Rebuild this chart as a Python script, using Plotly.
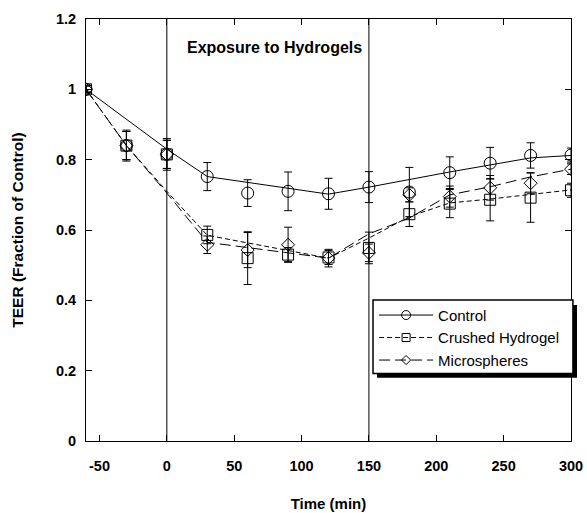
import plotly.graph_objects as go

time = [-60, -30, 0, 30, 60, 90, 120, 150, 180, 210, 240, 270, 300]

control = [1.0, 0.84, 0.815, 0.752, 0.705, 0.71, 0.703, 0.722, 0.708, 0.763, 0.79, 0.812, 0.813]
control_err = [0.01, 0.044, 0.045, 0.04, 0.038, 0.055, 0.044, 0.044, 0.07, 0.045, 0.045, 0.036, 0.02]

crushed = [1.0, 0.84, 0.815, 0.586, 0.52, 0.53, 0.522, 0.549, 0.645, 0.675, 0.686, 0.692, 0.713]
crushed_err = [0.01, 0.04, 0.04, 0.025, 0.075, 0.02, 0.02, 0.045, 0.035, 0.04, 0.06, 0.07, 0.02]

micro = [1.0, 0.84, 0.815, 0.558, 0.543, 0.558, 0.52, 0.535, 0.70, 0.695, 0.72, 0.733, 0.773]
micro_err = [0.01, 0.04, 0.04, 0.025, 0.05, 0.05, 0.025, 0.025, 0.02, 0.03, 0.035, 0.03, 0.015]

# smoothed trend curves drawn through the data
control_fit_x = [-60, 0, 30, 120, 150, 210, 270, 300]
control_fit_y = [1.0, 0.83, 0.752, 0.702, 0.722, 0.765, 0.805, 0.812]
crushed_fit_x = [-60, -30, 0, 30, 120, 150, 180, 210, 240, 300]
crushed_fit_y = [1.0, 0.84, 0.71, 0.585, 0.52, 0.577, 0.638, 0.677, 0.688, 0.714]
micro_fit_x = [-60, -30, 0, 30, 120, 150, 180, 210, 240, 270, 300]
micro_fit_y = [1.0, 0.84, 0.705, 0.565, 0.52, 0.589, 0.634, 0.70, 0.723, 0.751, 0.773]

x_ticks = [-50, 0, 50, 100, 150, 200, 250, 300]
y_ticks = [0, 0.2, 0.4, 0.6, 0.8, 1.0, 1.2]
y_tick_text = ["0", "0.2", "0.4", "0.6", "0.8", "1", "1.2"]

FONT = "Liberation Sans, Arial, sans-serif"

fig = go.Figure()

series = [
    ("Control", control_fit_x, control_fit_y, time, control, control_err, "circle-open", 12, "solid"),
    ("Crushed Hydrogel", crushed_fit_x, crushed_fit_y, time, crushed, crushed_err, "square-open", 11, "5px,3px"),
    ("Microspheres", micro_fit_x, micro_fit_y, time, micro, micro_err, "diamond-open", 10, "11px,5px"),
]

for name, fx, fy, x, y, e, sym, size, dash in series:
    fig.add_trace(go.Scatter(
        x=fx, y=fy, mode="lines", name=name, showlegend=False,
        line=dict(color="black", width=1, dash=dash),
        hoverinfo="skip"))
    fig.add_trace(go.Scatter(
        x=x, y=y, mode="markers", name=name, showlegend=False,
        marker=dict(symbol=sym, size=size, color="black", line=dict(width=1, color="black")),
        error_y=dict(type="data", array=e, visible=True, color="black", thickness=1, width=4)))
    fig.add_trace(go.Scatter(
        x=[None], y=[None], mode="lines+markers", name=name,
        line=dict(color="black", width=1, dash=dash),
        marker=dict(symbol=sym, size=size - 3, color="black", line=dict(width=1, color="black"))))

shapes = [
    dict(type="line", xref="x", yref="paper", x0=0, x1=0, y0=0, y1=1,
         line=dict(color="black", width=1)),
    dict(type="line", xref="x", yref="paper", x0=150, x1=150, y0=0, y1=1,
         line=dict(color="black", width=1)),
    # legend drop shadow and frame
    dict(type="rect", xref="paper", yref="paper", x0=0.600, x1=1.0124, y0=0.150, y1=0.322,
         fillcolor="black", line=dict(width=0), layer="above"),
    dict(type="rect", xref="paper", yref="paper", x0=0.5918, x1=1.004, y0=0.160, y1=0.334,
         fillcolor="white", line=dict(color="black", width=1.5), layer="above"),
]

fig.update_layout(
    width=587, height=513,
    margin=dict(l=86, r=16, t=19, b=72, autoexpand=False),
    paper_bgcolor="white", plot_bgcolor="white",
    font=dict(family=FONT, color="black", size=14),
    shapes=shapes,
    showlegend=True,
    legend=dict(x=0.594, y=0.337, xanchor="left", yanchor="top",
                bgcolor="rgba(0,0,0,0)", borderwidth=0,
                font=dict(family=FONT, size=15, color="black"),
                tracegroupgap=0, itemwidth=54),
    annotations=[dict(x=80, y=1.12, xref="x", yref="y", text="<b>Exposure to Hydrogels</b>",
                      showarrow=False, font=dict(family=FONT, size=16, color="black"))],
)

fig.update_xaxes(range=[-60, 300], tickvals=x_ticks, ticktext=[str(v) for v in x_ticks],
                 ticks="inside", ticklen=6, tickcolor="black", mirror="ticks",
                 showline=True, linecolor="black", linewidth=1, showgrid=False, zeroline=False,
                 ticklabelstandoff=12,
                 tickfont=dict(family=FONT, size=14.5, color="black", weight="bold"),
                 title=dict(text="<b>Time (min)</b>", font=dict(family=FONT, size=15), standoff=25))
fig.update_yaxes(range=[0, 1.2], tickvals=y_ticks, ticktext=y_tick_text,
                 ticks="inside", ticklen=6, tickcolor="black", mirror="ticks",
                 showline=True, linecolor="black", linewidth=1, showgrid=False, zeroline=False,
                 ticklabelstandoff=6,
                 tickfont=dict(family=FONT, size=14.5, color="black", weight="bold"),
                 title=dict(text="<b>TEER (Fraction of Control)</b>", font=dict(family=FONT, size=15.5), standoff=28))

fig.write_html("out.html")
